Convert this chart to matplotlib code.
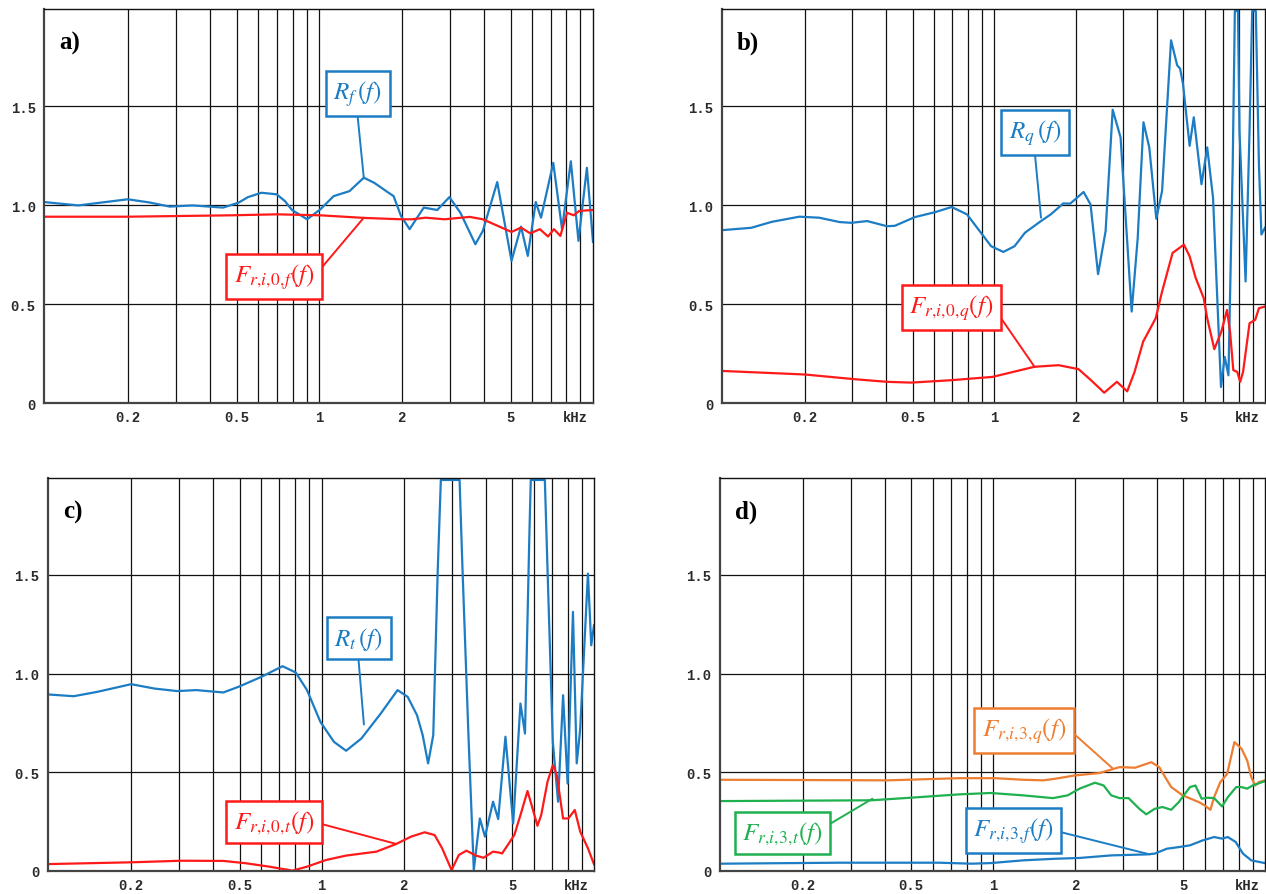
import matplotlib.pyplot as plt
from matplotlib.ticker import NullFormatter

plt.rcParams["mathtext.fontset"] = "stix"

# frequencies in kHz
# a) R_f and F_r,i,0,f
fa_R = [0.099, 0.132, 0.2, 0.24, 0.285, 0.345, 0.446, 0.508, 0.55, 0.616,
        0.70, 0.75, 0.796, 0.904, 1.01, 1.13, 1.29, 1.456, 1.59, 1.78,
        1.87, 1.99, 2.14, 2.41, 2.70, 2.99, 3.28, 3.72, 3.96, 4.47,
        5.04, 5.46, 5.78, 6.18, 6.46, 7.16, 7.71, 8.30, 8.85, 9.50,
        10.0]
Ra = [1.015, 0.998, 1.029, 1.013, 0.992, 0.998, 0.987, 1.012, 1.040, 1.062,
      1.054, 1.020, 0.975, 0.928, 0.978, 1.045, 1.07, 1.138, 1.112, 1.065,
      1.045, 0.945, 0.878, 0.987, 0.975, 1.040, 0.961, 0.802, 0.869, 1.116,
      0.718, 0.891, 0.743, 1.015, 0.936, 1.213, 0.878, 1.221, 0.819, 1.188,
      0.814]
fa_F = [0.099, 0.2, 0.476, 0.70, 1.01, 1.456, 1.99, 2.18, 2.45, 2.87,
        3.55, 3.96, 4.5, 5.04, 5.46, 5.9, 6.4, 6.85, 7.2, 7.6,
        8.04, 8.5, 8.9, 10.0]
Fa = [0.941, 0.941, 0.948, 0.953, 0.948, 0.935, 0.928, 0.928, 0.936, 0.928,
      0.940, 0.928, 0.894, 0.864, 0.886, 0.857, 0.878, 0.841, 0.878, 0.844,
      0.961, 0.948, 0.970, 0.975]

# b) R_q and F_r,i,0,q
fb_R = [0.099, 0.127, 0.151, 0.191, 0.226, 0.269, 0.297, 0.340, 0.402, 0.43,
        0.510, 0.606, 0.697, 0.794, 0.894, 0.975, 1.082, 1.19, 1.30, 1.49,
        1.62, 1.80, 1.91, 2.14, 2.27, 2.42, 2.58, 2.74, 2.93, 3.22,
        3.39, 3.56, 3.74, 3.97, 4.17, 4.50, 4.74, 4.86, 4.98, 5.27,
        5.46, 5.83, 6.12, 6.43, 6.88, 7.1, 7.33, 7.6, 7.74, 7.95,
        8.05, 8.48, 8.77, 8.97, 9.25, 9.5, 9.7, 10.0]
Rb = [0.873, 0.885, 0.915, 0.941, 0.936, 0.914, 0.910, 0.919, 0.893, 0.895,
      0.939, 0.964, 0.990, 0.953, 0.860, 0.792, 0.763, 0.792, 0.860, 0.919,
      0.953, 1.008, 1.007, 1.066, 1.003, 0.651, 0.868, 1.481, 1.342, 0.462,
      0.834, 1.418, 1.291, 0.931, 1.071, 1.832, 1.706, 1.689, 1.613, 1.299,
      1.443, 1.105, 1.291, 1.037, 0.081, 0.233, 0.140, 1.2, 1.98, 1.98,
      1.376, 0.614, 1.376, 1.98, 1.98, 1.2, 0.851, 0.885]
fb_F = [0.099, 0.2, 0.307, 0.402, 0.494, 0.692, 0.988, 1.41, 1.73, 2.05,
        2.28, 2.55, 2.84, 3.1, 3.3, 3.55, 3.95, 4.17, 4.56, 5.02,
        5.27, 5.55, 5.94, 6.12, 6.5, 6.9, 7.24, 7.43, 7.64, 7.9,
        8.1, 8.3, 8.77, 9.2, 9.5, 10.0]
Fb = [0.162, 0.144, 0.120, 0.107, 0.103, 0.115, 0.132, 0.183, 0.191, 0.171,
      0.115, 0.052, 0.107, 0.059, 0.157, 0.310, 0.428, 0.563, 0.758, 0.800,
      0.741, 0.631, 0.530, 0.428, 0.272, 0.360, 0.470, 0.360, 0.166, 0.157,
      0.107, 0.157, 0.403, 0.420, 0.479, 0.487]

# c) R_t and F_r,i,0,t
fc_R = [0.099, 0.123, 0.150, 0.2, 0.243, 0.295, 0.347, 0.436, 0.496, 0.601,
        0.719, 0.804, 0.884, 0.99, 1.11, 1.23, 1.40, 1.65, 1.90, 2.07,
        2.24, 2.35, 2.46, 2.57, 2.67, 2.74, 3.21, 3.29, 3.46, 3.62,
        3.81, 3.98, 4.26, 4.45, 4.73, 5.05, 5.37, 5.58, 5.79, 5.86,
        6.6, 6.75, 7.06, 7.38, 7.7, 8.0, 8.37, 8.64, 8.83, 8.9,
        9.5, 9.77, 10.0]
Rc = [0.894, 0.885, 0.907, 0.946, 0.924, 0.911, 0.916, 0.904, 0.933, 0.983,
      1.037, 1.005, 0.916, 0.755, 0.654, 0.609, 0.671, 0.798, 0.916, 0.882,
      0.789, 0.688, 0.545, 0.688, 1.531, 1.98, 1.98, 1.531, 0.688, 0.005,
      0.266, 0.174, 0.351, 0.263, 0.680, 0.241, 0.848, 0.696, 1.70, 1.98,
      1.98, 1.531, 0.654, 0.351, 0.890, 0.443, 1.312, 0.545, 0.671, 0.722,
      1.506, 1.143, 1.245]
fc_F = [0.099, 0.2, 0.305, 0.436, 0.529, 0.642, 0.782, 0.884, 1.04, 1.23,
        1.59, 1.88, 2.13, 2.39, 2.6, 2.77, 3.0, 3.19, 3.4, 3.69,
        3.93, 4.26, 4.46, 4.6, 5.1, 5.37, 5.7, 5.9, 6.2, 6.4,
        6.75, 7.06, 7.3, 7.7, 8.05, 8.5, 8.9, 9.5, 10.0]
Fc = [0.035, 0.044, 0.052, 0.051, 0.039, 0.022, 0.002, 0.022, 0.056, 0.078,
      0.098, 0.137, 0.174, 0.196, 0.182, 0.115, 0.005, 0.081, 0.103, 0.078,
      0.067, 0.098, 0.094, 0.089, 0.182, 0.283, 0.405, 0.334, 0.229, 0.283,
      0.452, 0.536, 0.486, 0.266, 0.266, 0.309, 0.199, 0.115, 0.034]

# d) F_r,i,3,q / F_r,i,3,t / F_r,i,3,f
fd_q = [0.099, 0.263, 0.408, 0.75, 1.02, 1.29, 1.53, 1.69, 2.0, 2.46,
        2.92, 3.33, 3.82, 4.08, 4.52, 4.98, 5.71, 6.0, 6.3, 6.5,
        6.85, 7.26, 7.72, 8.2, 8.6, 8.9, 9.2, 9.5, 10.0]
Fq = [0.462, 0.460, 0.459, 0.470, 0.470, 0.462, 0.459, 0.467, 0.484, 0.496,
      0.526, 0.523, 0.551, 0.526, 0.425, 0.383, 0.349, 0.332, 0.310, 0.374,
      0.450, 0.492, 0.653, 0.619, 0.560, 0.476, 0.433, 0.450, 0.459]
fd_t = [0.099, 0.357, 0.535, 0.75, 0.98, 1.29, 1.66, 1.88, 2.08, 2.37,
        2.55, 2.72, 2.92, 3.15, 3.45, 3.66, 3.93, 4.2, 4.52, 4.82,
        5.3, 5.55, 5.85, 6.15, 6.5, 6.95, 7.3, 7.84, 8.2, 8.6,
        9.0, 10.0]
Ft = [0.354, 0.358, 0.374, 0.388, 0.395, 0.383, 0.369, 0.383, 0.417, 0.447,
      0.433, 0.383, 0.369, 0.369, 0.315, 0.287, 0.315, 0.324, 0.310, 0.349,
      0.425, 0.433, 0.366, 0.371, 0.369, 0.327, 0.374, 0.425, 0.425, 0.417,
      0.433, 0.455]
fd_f = [0.099, 0.272, 0.634, 0.83, 0.98, 1.29, 1.69, 2.08, 2.72, 3.67,
        3.93, 4.36, 4.82, 5.3, 5.9, 6.5, 6.95, 7.3, 7.8, 8.3,
        8.9, 10.0]
Ff = [0.037, 0.042, 0.042, 0.037, 0.040, 0.054, 0.062, 0.066, 0.079, 0.084,
      0.088, 0.113, 0.121, 0.130, 0.155, 0.172, 0.164, 0.172, 0.147, 0.088,
      0.054, 0.040]

x_labels = ["0.2", "0.5", "1", "2", "5", "kHz"]
x_label_pos = [0.2, 0.5, 1, 2, 5, 8.65]
grid_x = [0.2, 0.3, 0.4, 0.5, 0.6, 0.7, 0.8, 0.9, 1, 2, 3, 4, 5, 6, 7, 8, 9]
y_ticks = [0, 0.5, 1.0, 1.5]
y_labels = ["0", "0.5", "1.0", "1.5"]

BLUE = "#1c7cc4"
RED = "#ff1a1a"
ORANGE = "#ed7d31"
GREEN = "#1fb04f"


def setup(ax, letter):
    ax.set_xscale("log")
    ax.set_xlim(0.099, 10.0)
    ax.set_ylim(0, 1.99)
    ax.set_xticks(x_label_pos)
    ax.set_xticklabels(x_labels)
    ax.xaxis.set_minor_locator(plt.NullLocator())
    ax.xaxis.set_minor_formatter(NullFormatter())
    ax.set_yticks(y_ticks)
    ax.set_yticklabels(y_labels)
    ax.tick_params(which="both", length=0)
    ax.tick_params(axis="x", pad=5)
    ax.tick_params(axis="y", pad=6)
    for lab in ax.get_xticklabels() + ax.get_yticklabels():
        lab.set_fontfamily("Liberation Mono")
        lab.set_fontsize(10)
        lab.set_fontweight("bold")
        lab.set_color("#2a2a2a")
    for gx in grid_x:
        ax.axvline(gx, color="#111111", lw=0.9, zorder=0)
    ax.set_axisbelow(True)
    ax.grid(which="major", axis="x", visible=False)
    ax.grid(which="major", axis="y", color="#111111", lw=0.9)
    for s in ["top", "right"]:
        ax.spines[s].set_color("#111111")
        ax.spines[s].set_linewidth(1.0)
    for s in ["left", "bottom"]:
        ax.spines[s].set_color("#444444")
        ax.spines[s].set_linewidth(1.6)
    ax.text(0.027, 0.915, letter, transform=ax.transAxes, ha="left", va="center",
            fontfamily="Liberation Serif", fontweight="bold", fontsize=18)


def label(ax, text, color, box, pt, relpos):
    ax.annotate(text, xy=pt, xytext=box, color=color, fontsize=18,
                ha="center", va="center",
                bbox=dict(boxstyle="square,pad=0.3", fc="white", ec=color, lw=1.8),
                arrowprops=dict(arrowstyle="-", color=color, lw=1.4, relpos=relpos,
                                shrinkA=0, shrinkB=0))


fig = plt.figure(figsize=(12.66, 8.95), dpi=100)
ax_a = fig.add_axes([0.0348, 0.5486, 0.4336, 0.4402])
ax_b = fig.add_axes([0.5703, 0.5486, 0.4289, 0.4402])
ax_c = fig.add_axes([0.0379, 0.0257, 0.4313, 0.4391])
ax_d = fig.add_axes([0.5687, 0.0257, 0.4305, 0.4391])

# a)
setup(ax_a, "a)")
ax_a.plot(fa_R, Ra, color=BLUE, lw=1.6)
ax_a.plot(fa_F, Fa, color=RED, lw=1.6)
label(ax_a, r"$R_f\,(f)$", BLUE, (1.384, 1.565), (1.456, 1.137), (0.48, 0))
label(ax_a, r"$F_{r,\!i,\!0,\!f}(f)$", RED, (0.684, 0.639), (1.456, 0.936), (1, 0.5))

# b)
setup(ax_b, "b)")
ax_b.plot(fb_R, Rb, color=BLUE, lw=1.6)
ax_b.plot(fb_F, Fb, color=RED, lw=1.6)
label(ax_b, r"$R_q\,(f)$", BLUE, (1.42, 1.366), (1.49, 0.936), (0.48, 0))
label(ax_b, r"$F_{r,\!i,\!0,\!q}(f)$", RED, (0.695, 0.484), (1.41, 0.183), (1, 0.5))

# c)
setup(ax_c, "c)")
ax_c.plot(fc_R, Rc, color=BLUE, lw=1.6)
ax_c.plot(fc_F, Fc, color=RED, lw=1.6)
label(ax_c, r"$R_t\,(f)$", BLUE, (1.37, 1.179), (1.43, 0.742), (0.48, 0))
label(ax_c, r"$F_{r,\!i,\!0,\!t}(f)$", RED, (0.668, 0.248), (1.88, 0.137), (1, 0.5))

# d)
setup(ax_d, "d)")
ax_d.plot(fd_q, Fq, color=ORANGE, lw=1.6)
ax_d.plot(fd_t, Ft, color=GREEN, lw=1.6)
ax_d.plot(fd_f, Ff, color=BLUE, lw=1.6)
label(ax_d, r"$F_{r,\!i,\!3,\!q}(f)$", ORANGE, (1.30, 0.713), (2.76, 0.518), (1, 0.61))
label(ax_d, r"$F_{r,\!i,\!3,\!t}(f)$", GREEN, (0.168, 0.193), (0.36, 0.366), (1, 0.67))
label(ax_d, r"$F_{r,\!i,\!3,\!f}(f)$", BLUE, (1.19, 0.207), (3.77, 0.084), (1, 0.49))

fig.savefig("out.png", dpi=100)
